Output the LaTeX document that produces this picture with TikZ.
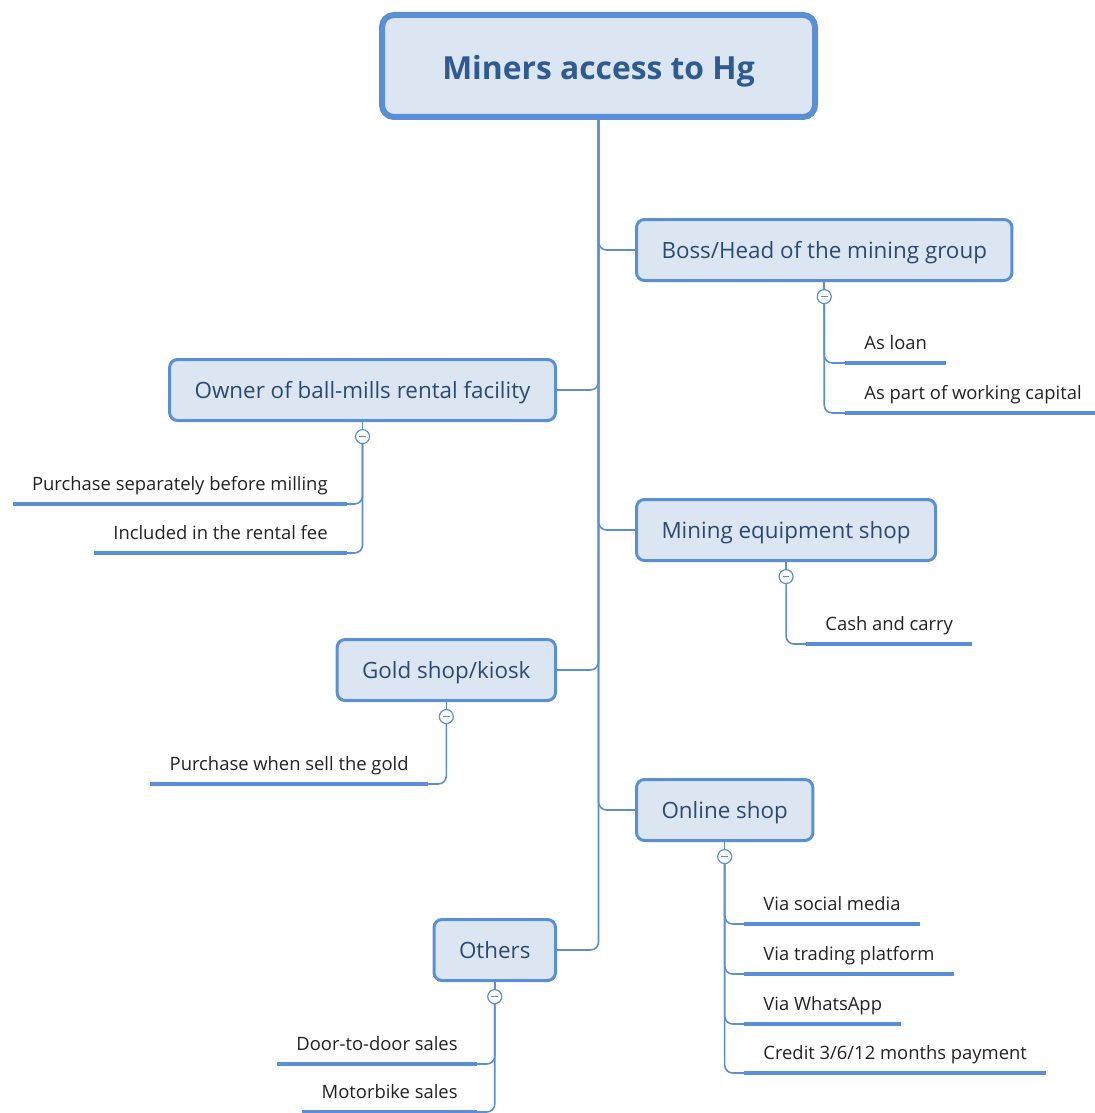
\documentclass[tikz,border=0pt]{standalone}
\usepackage{fontspec}
\setmainfont{Open Sans}
\usetikzlibrary{positioning}
\definecolor{mapBlue}{HTML}{5B8FD5}
\definecolor{mapFill}{HTML}{DCE6F2}
\definecolor{titleText}{HTML}{2F5B8E}
\definecolor{topicText}{HTML}{2C4A6E}
\definecolor{leafText}{HTML}{222222}

\begin{document}
\begin{tikzpicture}[
    x=0.5pt, y=-0.5pt,
    root/.style={draw=mapBlue, line width=3pt, rounded corners=6pt, fill=mapFill, minimum width=216.5pt, minimum height=51pt, text height=14pt, text depth=0.6pt, font=\fontsize{15.9}{18}\selectfont\bfseries, text=titleText},
    topic/.style={draw=mapBlue, line width=1.5pt, rounded corners=4pt, fill=mapFill, minimum height=30.5pt, inner xsep=12.5pt, text height=9pt, text depth=0.5pt, font=\fontsize{11.2}{13}\selectfont, text=topicText},
    fold/.style={circle, draw=mapBlue, fill=white, line width=0.6pt, minimum size=7pt, inner sep=0pt,
      path picture={\draw[mapBlue, line width=0.6pt] ([xshift=-1.7pt]path picture bounding box.center) -- ([xshift=1.7pt]path picture bounding box.center);}},
    leaf/.style={inner xsep=9.5pt, inner ysep=4.5pt, text height=6.5pt, text depth=2pt, font=\fontsize{9.2}{11}\selectfont, text=leafText},
    branch/.style={draw=mapBlue, line width=0.8pt, rounded corners=4pt},
    underline/.style={draw=mapBlue, line width=2pt}
  ]
    \useasboundingbox (0,0) rectangle (1094,1113);

    % central topic and main branches
    \node[root] (hg) at (598.5,66) {Miners access to Hg};

    \node[topic, anchor=west] (boss) at (635,250) {Boss/Head of the mining group};
    \node[topic, anchor=east] (owner) at (557,390) {Owner of ball-mills rental facility};
    \node[topic, anchor=west] (equip) at (635,530) {Mining equipment shop};
    \node[topic, anchor=east] (gold) at (557,670) {Gold shop/kiosk};
    \node[topic, anchor=west] (online) at (635,810) {Online shop};
    \node[topic, anchor=east] (others) at (557,950) {Others};

    \draw[branch] (hg.south) |- (boss.west);
    \draw[branch] (hg.south) |- (owner.east);
    \draw[branch] (hg.south) |- (equip.west);
    \draw[branch] (hg.south) |- (gold.east);
    \draw[branch] (hg.south) |- (online.west);
    \draw[branch] (hg.south) |- (others.east);

    % fold markers
    \node[fold, below=3.5pt of boss] (bossF) {};
    \node[fold, below=3.5pt of owner] (ownerF) {};
    \node[fold, below=3.5pt of equip] (equipF) {};
    \node[fold, below=3.5pt of gold] (goldF) {};
    \node[fold, below=3.5pt of online] (onlineF) {};
    \node[fold, below=3.5pt of others] (othersF) {};

    \draw[branch] (boss.south) -- (bossF);
    \draw[branch] (owner.south) -- (ownerF);
    \draw[branch] (equip.south) -- (equipF);
    \draw[branch] (gold.south) -- (goldF);
    \draw[branch] (online.south) -- (onlineF);
    \draw[branch] (others.south) -- (othersF);

    % sub-topics
    \node[leaf, anchor=south west] (loan) at (845,363) {As loan};
    \node[leaf, anchor=south west] (capital) at (845,413) {As part of working capital};
    \node[leaf, anchor=south east] (separate) at (347,504) {Purchase separately before milling};
    \node[leaf, anchor=south east] (rentfee) at (347,553) {Included in the rental fee};
    \node[leaf, anchor=south west] (cash) at (806,644) {Cash and carry};
    \node[leaf, anchor=south east] (sellgold) at (428,784) {Purchase when sell the gold};
    \node[leaf, anchor=south west] (social) at (744,924) {Via social media};
    \node[leaf, anchor=south west] (trading) at (744,974) {Via trading platform};
    \node[leaf, anchor=south west] (whatsapp) at (744,1024) {Via WhatsApp};
    \node[leaf, anchor=south west] (credit) at (744,1073) {Credit 3/6/12 months payment};
    \node[leaf, anchor=south east] (door) at (477,1064) {Door-to-door sales};
    \node[leaf, anchor=south east] (motorbike) at (477,1112) {Motorbike sales};

    \draw[branch] (bossF.south) |- (loan.south west);
    \draw[branch] (bossF.south) |- (capital.south west);
    \draw[branch] (ownerF.south) |- (separate.south east);
    \draw[branch] (ownerF.south) |- (rentfee.south east);
    \draw[branch] (equipF.south) |- (cash.south west);
    \draw[branch] (goldF.south) |- (sellgold.south east);
    \draw[branch] (onlineF.south) |- (social.south west);
    \draw[branch] (onlineF.south) |- (trading.south west);
    \draw[branch] (onlineF.south) |- (whatsapp.south west);
    \draw[branch] (onlineF.south) |- (credit.south west);
    \draw[branch] (othersF.south) |- (door.south east);
    \draw[branch] (othersF.south) |- (motorbike.south east);

    \foreach \sub in {loan,capital,separate,rentfee,cash,sellgold,social,trading,whatsapp,credit,door,motorbike}
      \draw[underline] (\sub.south west) -- (\sub.south east);
  \end{tikzpicture}
\end{document}
